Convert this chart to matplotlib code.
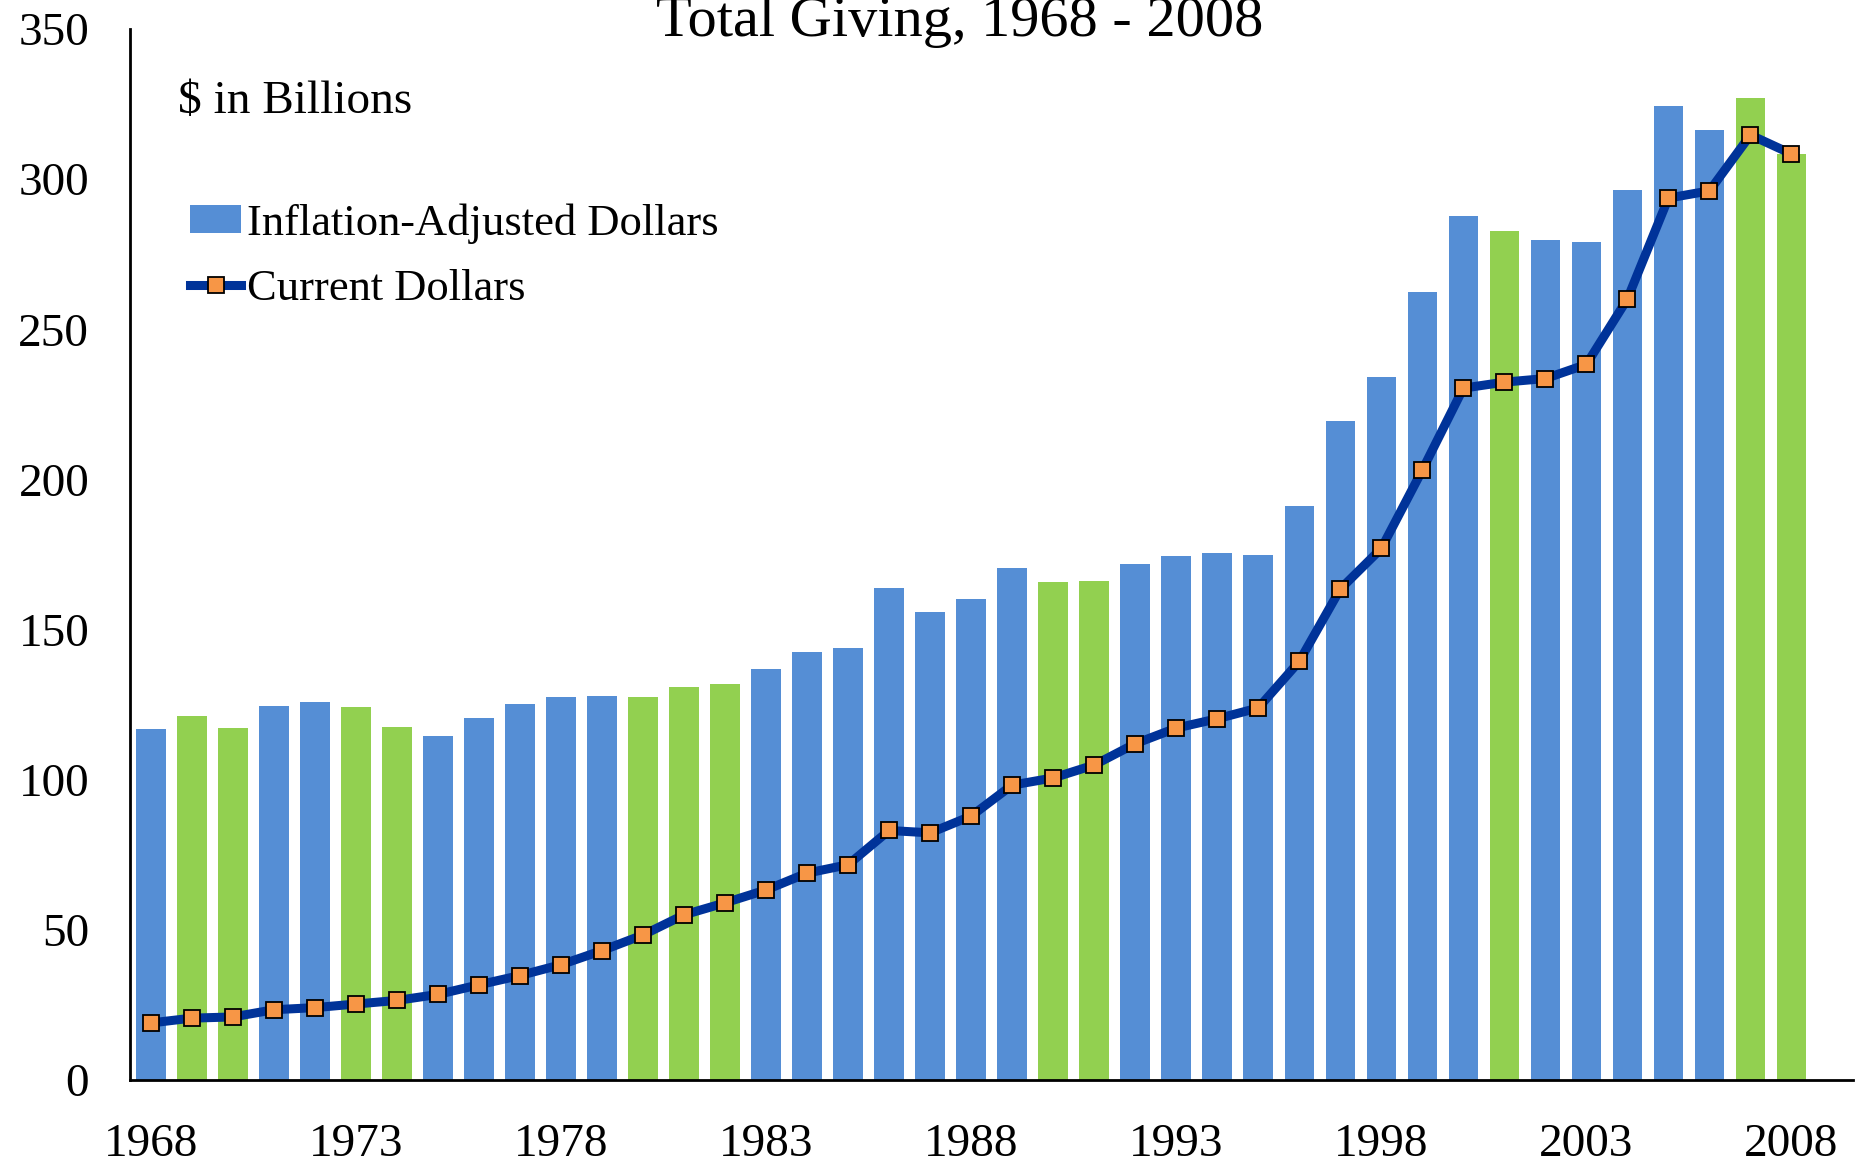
import matplotlib
matplotlib.use("Agg")
import matplotlib.pyplot as plt
import numpy as np
from matplotlib.patches import Patch
from matplotlib.lines import Line2D

plt.rcParams['font.family'] = ['Liberation Serif', 'DejaVu Serif']

years = list(range(1968, 2009))
adjusted = [116.8, 121.1, 117.2, 124.7, 125.9, 124.3, 117.6, 114.4, 120.7, 125.1,
            127.5, 127.9, 127.5, 131.0, 131.8, 137.0, 142.5, 143.7, 163.9, 156.0,
            160.3, 170.6, 165.9, 166.3, 171.8, 174.6, 175.4, 175.0, 191.2, 219.3,
            234.0, 262.5, 287.8, 282.7, 279.9, 279.1, 296.5, 324.2, 316.3, 327.0,
            308.4]
current = [19.0, 20.6, 21.0, 23.4, 24.1, 25.3, 26.5, 28.5, 31.7, 34.8,
           38.4, 43.1, 48.3, 55.0, 59.0, 63.3, 68.9, 71.7, 83.1, 82.3,
           87.9, 98.2, 100.6, 104.9, 112.0, 117.2, 120.3, 123.9, 139.4, 163.5,
           177.0, 203.1, 230.4, 232.4, 233.6, 238.3, 260.1, 293.7, 296.1, 314.7,
           308.4]
# recession years get the green bars
recession = [1969, 1970, 1973, 1974, 1980, 1981, 1982, 1990, 1991, 2001, 2007, 2008]
tick_years = [1968, 1973, 1978, 1983, 1988, 1993, 1998, 2003, 2008]

blue = '#558ED5'
green = '#92D050'
line_col = '#003399'
orange = '#F79646'

fig = plt.figure(figsize=(18.63, 11.64), dpi=100)
ax = fig.add_axes([129.5 / 1863, 84 / 1164, (1853 - 129.5) / 1863, (1080 - 29) / 1164])

x = np.arange(len(years))
colors = [green if y in recession else blue for y in years]
ax.bar(x, adjusted, width=0.72, color=colors, zorder=2)
ax.plot(x, current, color=line_col, lw=6.5, marker='s', ms=11.5,
        mfc=orange, mec='black', mew=1.3, zorder=3)

ax.set_xlim(-0.52, 41.5)
ax.set_ylim(0, 350)
ax.set_yticks(range(0, 351, 50))
ax.set_xticks([years.index(t) for t in tick_years])
ax.set_xticklabels([str(t) for t in tick_years])
ax.tick_params(axis='both', length=0, labelsize=34)
ax.tick_params(axis='y', pad=29)
ax.tick_params(axis='x', pad=31)
for s in ['top', 'right']:
    ax.spines[s].set_visible(False)
for s in ['left', 'bottom']:
    ax.spines[s].set_linewidth(2)

fig.text(960 / 1863, 1 - 36 / 1164, 'Total Giving, 1968 - 2008', ha='center',
         va='baseline', fontsize=42)
fig.text(178 / 1863, 1 - 102 / 1164, '$ in Billions', ha='left', va='center', fontsize=34)

handles = [Patch(facecolor=blue, edgecolor='none'),
           Line2D([0], [0], color=line_col, lw=6.5, marker='s', ms=11.5,
                  mfc=orange, mec='black', mew=1.3)]
fig.legend(handles, ['Inflation-Adjusted Dollars', 'Current Dollars'],
           loc='upper left', bbox_to_anchor=(190 / 1863, 1 - 203 / 1164),
           frameon=False, fontsize=32, handlelength=1.15, handletextpad=0.13,
           labelspacing=0.57, borderpad=0, borderaxespad=0, handleheight=0.6)

fig.savefig('out.png', dpi=100)
